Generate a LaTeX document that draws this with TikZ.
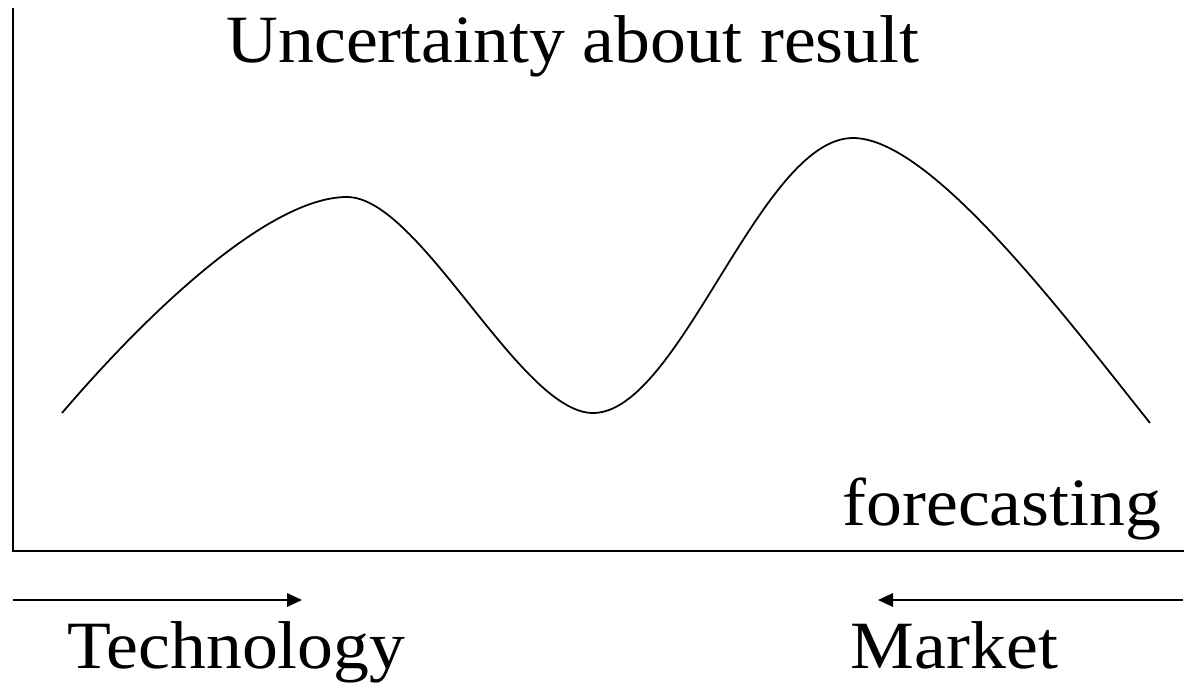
\documentclass[tikz,border=0pt]{standalone}
\usepackage{fontspec}
\setmainfont{Liberation Serif}[FakeStretch=1.06]
\usetikzlibrary{arrows.meta}

\begin{document}
\begin{tikzpicture}[x=0.02cm, y=-0.02cm, line width=1pt,
    popis/.style={inner sep=0pt, font=\fontsize{38.5}{44}\selectfont},
    sipka/.style={-{Triangle[length=0.3cm, width=0.27cm]}}]

    % Okraje obrázku
    \useasboundingbox (0,0) rectangle (1184,687);

    % 1. Osy
    \coordinate (O) at (13,551);
    \coordinate (ytop) at (13,8);
    \coordinate (xend) at (1184,551);
    \draw (ytop) -- (O) -- (xend);

    % 2. Popisky
    \node[popis, anchor=base] (nadpis) at (573,62) {Uncertainty about result};
    \node[popis, anchor=base east] (forecast) at (1162,525) {forecasting};
    \node[popis, anchor=base west] (tech) at (67,668) {Technology};
    \node[popis, anchor=base west] (market) at (850,668) {Market};

    % 3. Křivka nejistoty
    \draw (62,413) .. controls (150,310) and (270,197) .. (347,197)
          .. controls (420,197) and (520,413) .. (593,413)
          .. controls (680,413) and (760,138) .. (853,138)
          .. controls (930,138) and (1060,310) .. (1150,423);

    % 4. Šipky
    \coordinate (t1) at (13,600);
    \coordinate (t2) at (302,600);
    \coordinate (m1) at (1183,600);
    \coordinate (m2) at (878,600);
    \draw[sipka] (t1) -- (t2);
    \draw[sipka] (m1) -- (m2);

\end{tikzpicture}
\end{document}
